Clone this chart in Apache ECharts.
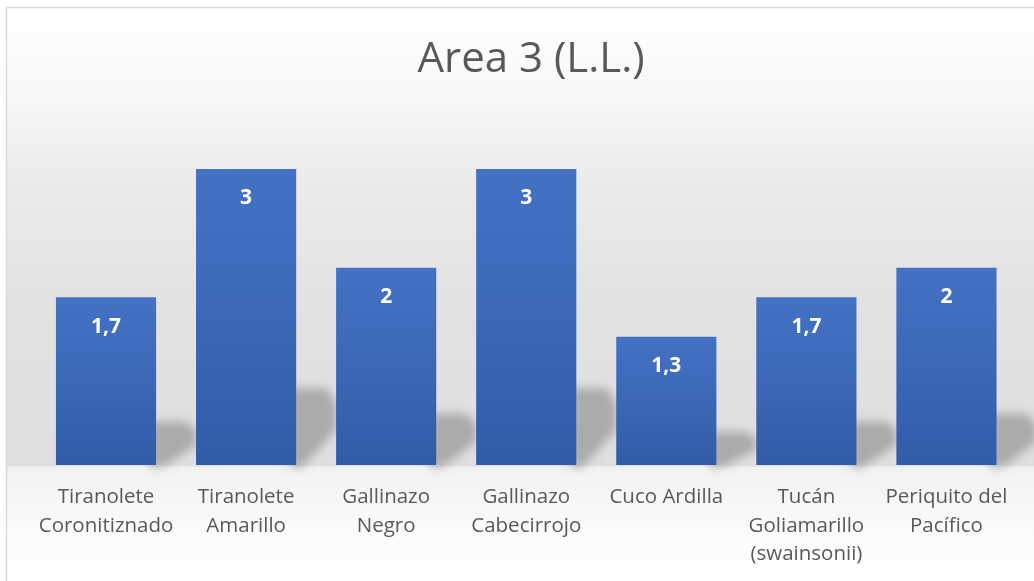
<!DOCTYPE html>
<html>
<head>
<meta charset="utf-8">
<script src="https://cdn.jsdelivr.net/npm/echarts@6/dist/echarts.min.js"></script>
<style>
  html, body { margin: 0; padding: 0; background: #ffffff; }
  #chart { width: 1034px; height: 581px; }
</style>
</head>
<body>
<div id="chart"></div>
<script>
// Species recorded in area 3 and their values
const categories = [
  'Tiranolete\nCoronitiznado',
  'Tiranolete\nAmarillo',
  'Gallinazo\nNegro',
  'Gallinazo\nCabecirrojo',
  'Cuco Ardilla',
  'Tucán\nGoliamarillo\n(swainsonii)',
  'Periquito del\nPacífico'
];
const values = [1.7, 3, 2, 3, 1.3, 1.7, 2];
const titleText = 'Area 3 (L.L.)';

const FONT = '"Open Sans", "Noto Sans", sans-serif';
const BAR_RATIO = 0.715;

const chart = echarts.init(document.getElementById('chart'), null, { renderer: 'canvas' });

// Soft perspective shadow cast behind each bar, sized from the bar's value
function renderShadow(params, api) {
  const i = api.value(0);
  const v = api.value(1);
  const base = api.coord([i, 0]);
  const top = api.coord([i, v]);
  const bw = api.size([1, 0])[0] * BAR_RATIO;
  const xR = base[0] + bw / 2;
  const h = base[1] - top[1];
  const sh = h * 0.26;
  const by = base[1];
  const OFF = 3000;
  const pts = [
    [xR - 6, by + 2],
    [xR - 6, by - sh],
    [xR + 30, by - sh],
    [xR + 40, by - sh * 0.8],
    [xR + 40, by - sh * 0.45],
    [xR + 6, by + 2]
  ].map(p => [p[0] - OFF, p[1]]);
  return {
    type: 'polygon',
    shape: { points: pts },
    style: {
      fill: '#ababab',
      shadowColor: '#ababab',
      shadowBlur: 10,
      shadowOffsetX: OFF,
      shadowOffsetY: 0
    },
    silent: true
  };
}

const option = {
  backgroundColor: '#ffffff',
  animation: false,
  graphic: [{
    type: 'rect',
    z: -10,
    silent: true,
    shape: { x: 6.5, y: 7.5, width: 1040, height: 590 },
    style: {
      stroke: '#d9d9d9',
      lineWidth: 1.5,
      fill: new echarts.graphic.LinearGradient(0, 0, 0, 1, [
        { offset: 0, color: '#ffffff' },
        { offset: 0.16, color: '#f7f7f7' },
        { offset: 0.28, color: '#ececec' },
        { offset: 0.50, color: '#e2e2e2' },
        { offset: 0.776, color: '#dfdfdf' },
        { offset: 0.778, color: '#f2f2f2' },
        { offset: 0.90, color: '#fcfcfc' },
        { offset: 1, color: '#ffffff' }
      ])
    }
  }],
  title: {
    text: titleText,
    left: 526,
    top: 34,
    textAlign: 'center',
    textStyle: {
      fontFamily: FONT,
      fontSize: 42,
      fontWeight: 'normal',
      color: '#595959'
    }
  },
  grid: { left: 36, right: 17.5, top: 169, bottom: 116, containLabel: false },
  xAxis: {
    type: 'category',
    data: categories,
    axisLine: { show: false },
    axisTick: { show: false },
    splitLine: { show: false },
    axisLabel: {
      interval: 0,
      margin: 18,
      fontFamily: FONT,
      fontSize: 20.5,
      lineHeight: 28.5,
      color: '#595959',
      verticalAlign: 'top'
    }
  },
  yAxis: {
    type: 'value',
    min: 0,
    max: 3,
    show: false,
    splitLine: { show: false }
  },
  series: [
    {
      type: 'custom',
      z: 1,
      clip: false,
      silent: true,
      renderItem: renderShadow,
      data: values.map((v, i) => [i, v])
    },
    {
      type: 'bar',
      z: 3,
      data: values,
      barWidth: (BAR_RATIO * 100) + '%',
      itemStyle: {
        color: new echarts.graphic.LinearGradient(0, 0, 0, 1, [
          { offset: 0, color: '#4472c4' },
          { offset: 1, color: '#325ca8' }
        ])
      },
      label: {
        show: true,
        position: 'insideTop',
        distance: 19,
        fontFamily: FONT,
        fontSize: 21,
        fontWeight: 'bold',
        color: '#ffffff',
        formatter: p => String(p.value).replace('.', ',')
      }
    }
  ]
};

chart.setOption(option);
</script>
</body>
</html>
